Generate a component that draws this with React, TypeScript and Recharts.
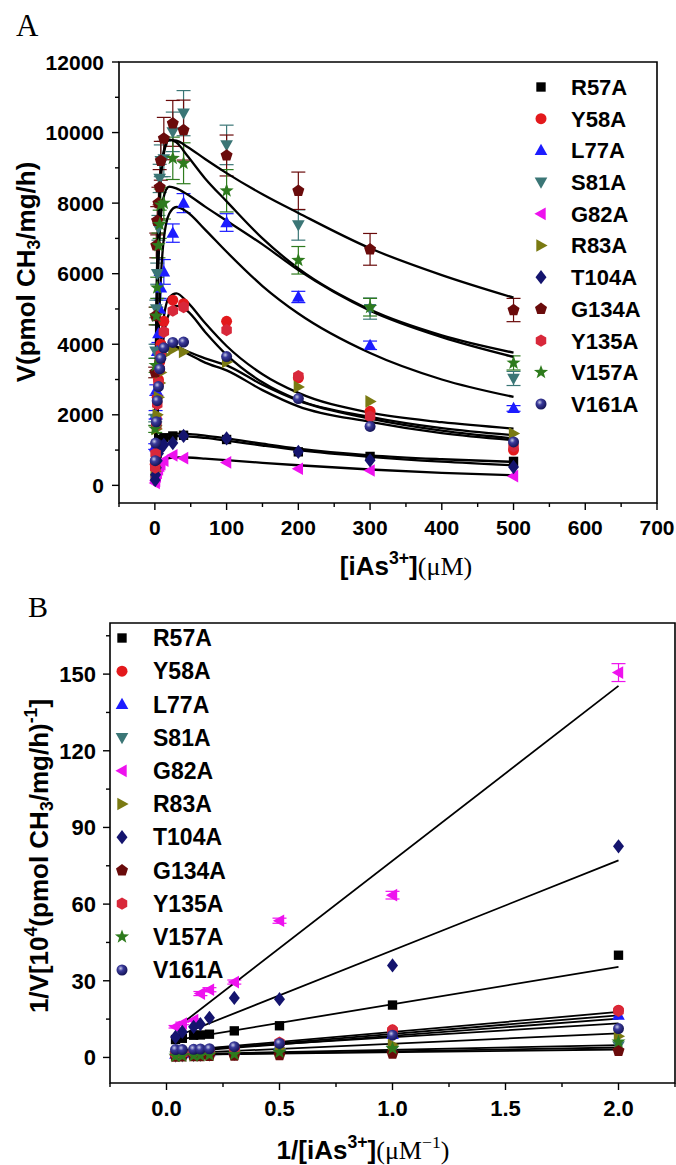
import React from "react";
import { ComposedChart, XAxis, YAxis, Scatter, Line, ReferenceArea, ErrorBar } from "recharts";

const FONT = "Arial, 'Liberation Sans', Helvetica, sans-serif";
const SERIF = "'Times New Roman', 'Liberation Serif', serif";

const seriesNames = ["R57A", "Y58A", "L77A", "S81A", "G82A", "R83A", "T104A", "G134A", "Y135A", "V157A", "V161A"];
const seriesColors = ["#000000", "#e3191c", "#1c1cff", "#3b7676", "#ee12ee", "#7a7a12", "#14146e", "#6a0b0b", "#d8283a", "#2e7b1d", "#1b1b7a"];
const seriesShapes = ["square", "circle", "up", "down", "left", "right", "diamond", "pentagon", "hexagon", "star", "sphere"];

// panel A: rate vs [iAs3+] (µM)
const concA = [0.5, 1, 2, 3.3, 5, 6.7, 8.3, 12.5, 25, 40, 100, 200, 300, 500];
const pointsA = [
  [200, 420, 700, 900, 1100, 1200, 1300, 1350, 1400, 1420, 1300, 950, 820, 680],
  [600, 1000, 1900, 2500, 3000, 3500, 4000, 4650, 5250, 5150, 4650, 3050, 2100, 1000],
  [1100, 2000, 2700, 3800, 4300, 5000, 5600, 6050, 7150, 8000, 7450, 5340, 3970, 2180],
  [1900, 3800, 5000, 6000, 7300, 8700, 9200, 9250, 10020, 10550, 9650, 7380, 5010, 3030],
  [70, 130, 250, 350, 450, 550, 600, 700, 850, 770, 650, 470, 420, 260],
  [400, 800, 1600, 2000, 2500, 2900, 3200, 3700, 3850, 3780, 3500, 2790, 2380, 1470],
  [150, 300, 500, 700, 900, 1000, 1100, 1150, 1200, 1400, 1330, 950, 710, 520],
  [3200, 4800, 6800, 7500, 8000, 8450, 9200, 9830, 10260, 10070, 9350, 8350, 6690, 4970],
  [500, 900, 1700, 2300, 2900, 3300, 3700, 4350, 4950, 5050, 4400, 3100, 1950, 1100],
  [1600, 3400, 4800, 5600, 6800, 7400, 7950, 8000, 9270, 9130, 8350, 6380, 5050, 3470],
  [700, 1200, 1800, 2400, 2800, 3300, 3600, 3900, 4050, 4060, 3650, 2460, 1670, 1230],
];
const errL77A = [80, 120, 150, 200, 250, 300, 350, 350, 260, 270, 250, 160, 120, 80];
const errS81A = [100, 200, 250, 300, 350, 400, 450, 500, 560, 640, 560, 430, 300, 200];
const errG134A = [150, 250, 350, 400, 450, 500, 550, 600, 650, 850, 580, 530, 450, 330];
const errV157A = [100, 200, 250, 300, 350, 400, 450, 450, 600, 580, 600, 390, 250, 200];
const errA = [null, null, errL77A, errS81A, null, null, null, errG134A, null, errV157A, null];

// fitted curves
const curveX = [0, 1, 2, 4, 7, 12, 20, 30, 45, 70, 100, 150, 200, 300, 400, 500];
const curvesA = [
  [0, 450, 750, 1050, 1250, 1380, 1445, 1465, 1460, 1410, 1330, 1180, 1040, 850, 740, 665],
  [0, 800, 1500, 2600, 3700, 4700, 5330, 5440, 5200, 4600, 3950, 3150, 2620, 2060, 1790, 1610],
  [0, 1000, 1900, 3500, 5300, 6900, 7700, 7890, 7750, 7250, 6620, 5650, 4870, 3750, 3000, 2506],
  [0, 2200, 4000, 6300, 8200, 9350, 9800, 9720, 9350, 8700, 8050, 7000, 6150, 4980, 4250, 3760],
  [0, 160, 300, 470, 610, 710, 775, 795, 790, 760, 715, 640, 570, 450, 355, 285],
  [0, 1000, 1750, 2700, 3400, 3830, 3965, 3930, 3800, 3600, 3400, 2850, 2400, 1890, 1550, 1330],
  [0, 320, 580, 880, 1100, 1270, 1360, 1395, 1390, 1345, 1270, 1130, 1000, 810, 670, 570],
  [0, 3000, 5000, 7000, 8500, 9450, 9790, 9770, 9600, 9250, 8850, 8250, 7720, 6720, 5960, 5320],
  [0, 650, 1200, 2100, 3100, 4150, 4880, 5090, 4950, 4350, 3700, 2920, 2420, 1940, 1620, 1420],
  [0, 1900, 3500, 5600, 7200, 8150, 8470, 8420, 8250, 7900, 7500, 6830, 6100, 4950, 4200, 3640],
  [0, 950, 1650, 2600, 3300, 3760, 3930, 3890, 3740, 3480, 3260, 2700, 2240, 1800, 1480, 1280],
];

// panel B: Lineweaver-Burk
const concB = [0.04, 0.07, 0.12, 0.15, 0.19, 0.3, 0.5, 1, 2];
const pointsB = [
  [7.0, 7.5, 8.7, 8.8, 9.1, 10.4, 12.4, 20.5, 40],
  [1.5, 1.7, 2.0, 2.2, 2.5, 3.5, 5.5, 10.8, 18.5],
  [1.3, 1.5, 1.8, 2.0, 2.3, 3.0, 4.8, 9.0, 16.6],
  [0.5, 0.6, 0.7, 0.8, 0.9, 1.2, 1.8, 2.8, 4.5],
  [12, 13.3, 14.6, 25, 26.5, 29.5, 53.5, 63.5, 150.6],
  [1.0, 1.1, 1.3, 1.5, 1.8, 2.5, 3.5, 5.0, 8.3],
  [8.0, 10.0, 12.0, 13.0, 15.5, 23.3, 22.8, 36, 82.6],
  [0.3, 0.4, 0.5, 0.5, 0.6, 0.7, 0.9, 1.5, 2.6],
  [1.5, 1.7, 2.0, 2.2, 2.5, 3.3, 5.8, 10.5, 18.2],
  [0.5, 0.6, 0.7, 0.8, 1.0, 1.3, 2.0, 3.5, 6.1],
  [3.1, 3.1, 3.2, 3.3, 3.4, 4.2, 5.5, 8.7, 11.3],
];
const errG82AB = [0.5, 0.5, 0.5, 0.8, 0.8, 0.8, 1, 1.5, 3.5];
const errB = [null, null, null, null, errG82AB, null, null, null, null, null, null];
const lineX = [0.04, 2];
const linesB = [
  [6.8, 35.4], [2.5, 17.8], [2.0, 15.2], [1.0, 3.9], [11.3, 145.4], [1.5, 9.4],
  [8.1, 77.1], [1.0, 3.1], [2.2, 16.5], [1.2, 4.8], [2.8, 13.3],
];

const ticksAX = [-50, 0, 50, 100, 150, 200, 250, 300, 350, 400, 450, 500, 550, 600, 650, 700];
const labelsAX = [0, 100, 200, 300, 400, 500, 600, 700];
const ticksAY = [0, 1000, 2000, 3000, 4000, 5000, 6000, 7000, 8000, 9000, 10000, 11000, 12000];
const labelsAY = [0, 2000, 4000, 6000, 8000, 10000, 12000];
const ticksBX = [-0.25, 0, 0.25, 0.5, 0.75, 1, 1.25, 1.5, 1.75, 2, 2.25];
const labelsBX = [0, 0.5, 1, 1.5, 2];
const ticksBY = [0, 15, 30, 45, 60, 75, 90, 105, 120, 135, 150, 165];
const labelsBY = [0, 30, 60, 90, 120, 150];

const pts = (cx: number, cy: number, r: number, offs: number[][]) =>
  offs.map(([a, b]) => `${cx + a * r},${cy + b * r}`).join(" ");

const poly = (n: number, rad: number, start = -90) =>
  Array.from({ length: n }, (_, k) => {
    const t = ((start + (360 / n) * k) * Math.PI) / 180;
    return [Math.cos(t) * rad, Math.sin(t) * rad];
  });

const starOffs = Array.from({ length: 10 }, (_, k) => {
  const t = ((-90 + 36 * k) * Math.PI) / 180;
  const rad = k % 2 === 0 ? 1.35 : 0.55;
  return [Math.cos(t) * rad, Math.sin(t) * rad];
});

function Marker({ kind, cx, cy, color, r = 5.5, gid }: any) {
  if (cx == null || cy == null) return null;
  switch (kind) {
    case "square":
      return <rect x={cx - r * 0.85} y={cy - r * 0.85} width={r * 1.7} height={r * 1.7} fill={color} />;
    case "circle":
      return <circle cx={cx} cy={cy} r={r} fill={color} />;
    case "up":
      return <polygon points={pts(cx, cy, r, [[0, -1.2], [-1.15, 0.85], [1.15, 0.85]])} fill={color} />;
    case "down":
      return <polygon points={pts(cx, cy, r, [[0, 1.2], [-1.15, -0.85], [1.15, -0.85]])} fill={color} />;
    case "left":
      return <polygon points={pts(cx, cy, r, [[-1.2, 0], [0.85, -1.15], [0.85, 1.15]])} fill={color} />;
    case "right":
      return <polygon points={pts(cx, cy, r, [[1.2, 0], [-0.85, -1.15], [-0.85, 1.15]])} fill={color} />;
    case "diamond":
      return <polygon points={pts(cx, cy, r, [[0, -1.3], [1.0, 0], [0, 1.3], [-1.0, 0]])} fill={color} />;
    case "pentagon":
      return <polygon points={pts(cx, cy, r, poly(5, 1.15))} fill={color} />;
    case "hexagon":
      return <polygon points={pts(cx, cy, r, poly(6, 1.1))} fill={color} />;
    case "star":
      return <polygon points={pts(cx, cy, r, starOffs)} fill={color} />;
    case "sphere":
      return (
        <g>
          <defs>
            <radialGradient id={gid} cx="38%" cy="35%" r="70%">
              <stop offset="0%" stopColor="#c8cbe8" />
              <stop offset="35%" stopColor="#3a3a9a" />
              <stop offset="100%" stopColor="#10104f" />
            </radialGradient>
          </defs>
          <circle cx={cx} cy={cy} r={r} fill={`url(#${gid})`} />
        </g>
      );
    default:
      return null;
  }
}

const makeXTick = (labels: number[], fmt: (v: number) => string, fontSize: number, dy: number) =>
  (props: any) => {
    const { x, y, payload } = props;
    const major = labels.includes(payload.value);
    return (
      <g>
        <line x1={x} x2={x} y1={y} y2={y + (major ? 7 : 4)} stroke="#000" strokeWidth={1.4} />
        {major && (
          <text x={x} y={y + dy} textAnchor="middle" fontFamily={FONT} fontWeight="bold" fontSize={fontSize} fill="#000">
            {fmt(payload.value)}
          </text>
        )}
      </g>
    );
  };

const makeYTick = (labels: number[], fontSize: number, gap: number) =>
  (props: any) => {
    const { x, y, payload } = props;
    const major = labels.includes(payload.value);
    return (
      <g>
        <line x1={x} x2={x - (major ? 7 : 4)} y1={y} y2={y} stroke="#000" strokeWidth={1.4} />
        {major && (
          <text x={x - gap} y={y + fontSize * 0.36} textAnchor="end" fontFamily={FONT} fontWeight="bold" fontSize={fontSize} fill="#000">
            {payload.value}
          </text>
        )}
      </g>
    );
  };

const xTickA = makeXTick(labelsAX, (v) => String(v), 21, 32);
const yTickA = makeYTick(labelsAY, 21, 15);
const xTickB = makeXTick(labelsBX, (v) => v.toFixed(1), 22, 33);
const yTickB = makeYTick(labelsBY, 22, 14);

const scatterA = pointsA.map((row, i) =>
  concA.map((x, j) => ({ x, v: row[j], e: errA[i] ? (errA[i] as number[])[j] : 0 }))
);
const lineDataA = curvesA.map((row) => curveX.map((x, j) => ({ x, v: row[j] })));
const scatterB = pointsB.map((row, i) =>
  concB.map((x, j) => ({ x, v: row[j], e: errB[i] ? (errB[i] as number[])[j] : 0 }))
);
const lineDataB = linesB.map((row) => lineX.map((x, j) => ({ x, v: row[j] })));

function Panel({ w, h, margin, xDomain, yDomain, xTicks, yTicks, xTick, yTick, yWidth, xHeight, scatters, errs, lines, lineWidth, tag }: any) {
  return (
    <ComposedChart width={w} height={h} margin={margin}>
      <XAxis type="number" dataKey="x" domain={xDomain} ticks={xTicks} interval={0} tick={xTick}
        tickLine={false} axisLine={false} tickSize={0} tickMargin={0} height={xHeight} allowDataOverflow />
      <YAxis type="number" dataKey="v" domain={yDomain} ticks={yTicks} interval={0} tick={yTick}
        tickLine={false} axisLine={false} tickSize={0} tickMargin={0} width={yWidth} allowDataOverflow />
      <ReferenceArea x1={xDomain[0]} x2={xDomain[1]} y1={yDomain[0]} y2={yDomain[1]}
        fill="none" fillOpacity={0} stroke="#000" strokeWidth={1.6} ifOverflow="visible" />
      {scatters.map((d: any[], i: number) => (
        <Scatter key={`s${i}`} name={seriesNames[i]} data={d} fill={seriesColors[i]} isAnimationActive={false}
          shape={(p: any) => (
            <Marker kind={seriesShapes[i]} cx={p.cx} cy={p.cy} color={seriesColors[i]} gid={`${tag}g${i}`} />
          )}>
          {errs[i] ? (
            <ErrorBar dataKey="e" direction="y" width={7} stroke={seriesColors[i]} strokeWidth={1.2} />
          ) : null}
        </Scatter>
      ))}
      {lines.map((d: any[], i: number) => (
        <Line key={`l${i}`} data={d} dataKey="v" type="monotone" stroke="#000" strokeWidth={lineWidth}
          dot={false} activeDot={false} isAnimationActive={false} />
      ))}
    </ComposedChart>
  );
}

const sup = { fontSize: "0.68em", position: "relative" as const, top: "-0.6em", verticalAlign: "baseline" };
const sub = { fontSize: "0.68em", position: "relative" as const, top: "0.3em", verticalAlign: "baseline" };

function Legend({ x, y0, step, labelX, fontSize, tag }: any) {
  return (
    <g>
      {seriesNames.map((n, i) => (
        <g key={n}>
          <Marker kind={seriesShapes[i]} cx={x} cy={y0 + i * step} color={seriesColors[i]} r={5.5} gid={`${tag}lg${i}`} />
          <text x={labelX} y={y0 + i * step + fontSize * 0.36} fontFamily={FONT} fontWeight="bold" fontSize={fontSize} fill="#000">
            {n}
          </text>
        </g>
      ))}
    </g>
  );
}

const titleBase: React.CSSProperties = {
  position: "absolute",
  whiteSpace: "nowrap",
  fontFamily: FONT,
  fontWeight: "bold",
  fontSize: 26,
  lineHeight: 1,
  color: "#000",
};

export default function App() {
  return (
    <div style={{ position: "absolute", left: 0, top: 0, width: 676, height: 1165, background: "#fff", overflow: "hidden" }}>
      <div style={{ position: "absolute", left: 0, top: 0 }}>
        <Panel w={676} h={590} margin={{ top: 62, right: 19, bottom: 0, left: 0 }}
          xDomain={[-50, 700]} yDomain={[-500, 12000]} xTicks={ticksAX} yTicks={ticksAY}
          xTick={xTickA} yTick={yTickA} yWidth={119} xHeight={87}
          scatters={scatterA} errs={errA} lines={lineDataA} lineWidth={2.3} tag="a" />
      </div>
      <div style={{ position: "absolute", left: 0, top: 580 }}>
        <Panel w={676} h={585} margin={{ top: 43, right: 1, bottom: 0, left: 0 }}
          xDomain={[-0.25, 2.25]} yDomain={[-10, 170]} xTicks={ticksBX} yTicks={ticksBY}
          xTick={xTickB} yTick={yTickB} yWidth={110} xHeight={82}
          scatters={scatterB} errs={errB} lines={lineDataB} lineWidth={1.8} tag="b" />
      </div>

      <svg width={676} height={1165} style={{ position: "absolute", left: 0, top: 0, pointerEvents: "none" }}>
        <text x={16} y={36} fontFamily={SERIF} fontSize={31} fill="#000">A</text>
        <text x={28} y={617} fontFamily={SERIF} fontSize={30} fill="#000">B</text>
        <Legend x={541} y0={87} step={31.7} labelX={571} fontSize={22} tag="a" />
        <Legend x={122} y0={638} step={33.2} labelX={153} fontSize={23} tag="b" />
      </svg>

      <div style={{ ...titleBase, left: 26, top: 272, transform: "translate(-50%, -50%) rotate(-90deg)" }}>
        V(pmol CH<span style={sub}>3</span>/mg/h)
      </div>
      <div style={{ ...titleBase, left: 406, top: 566, transform: "translate(-50%, -50%)" }}>
        [iAs<span style={sup}>3+</span>]<span style={{ fontFamily: SERIF, fontWeight: "normal" }}>(μM)</span>
      </div>
      <div style={{ ...titleBase, left: 39, top: 856, transform: "translate(-50%, -50%) rotate(-90deg)" }}>
        1/V[10<span style={sup}>4</span>(pmol CH<span style={sub}>3</span>/mg/h)<span style={sup}>-1</span>]
      </div>
      <div style={{ ...titleBase, left: 363, top: 1150, transform: "translate(-50%, -50%)" }}>
        1/[iAs<span style={sup}>3+</span>]
        <span style={{ fontFamily: SERIF, fontWeight: "normal" }}>
          (μM<span style={sup}>−1</span>)
        </span>
      </div>
    </div>
  );
}
